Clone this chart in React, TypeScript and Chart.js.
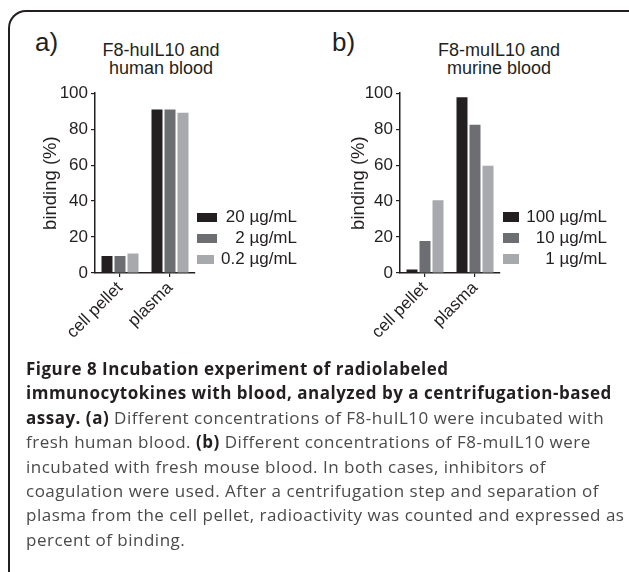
import React, { useEffect, useRef } from "react";
import { Chart, registerables } from "chart.js";

Chart.register(...registerables);

// ---- data ----
const categories = ["cell pellet", "plasma"];
const yTickMin = 0;
const yTickMax = 100;
const yTickStep = 20;

const humanLabels = ["20 µg/mL", "2 µg/mL", "0.2 µg/mL"];
const human20 = [9.4, 90.9];
const human2 = [9.4, 90.9];
const human02 = [10.9, 89.1];

const murineLabels = ["100 µg/mL", "10 µg/mL", "1 µg/mL"];
const murine100 = [2.0, 97.8];
const murine10 = [17.8, 82.5];
const murine1 = [40.5, 59.6];

const seriesColors = ["#231f20", "#6d6e71", "#a7a9ac"];
const FONT = "'Liberation Sans', Arial, Helvetica, sans-serif";
const INK = "#231f20";

type PanelProps = {
  left: number;
  padLeft: number;
  labels: string[];
  values: number[][];
};

function BarPanel({ left, padLeft, labels, values }: PanelProps) {
  const ref = useRef<HTMLCanvasElement | null>(null);
  useEffect(() => {
    if (!ref.current) return;
    const chart = new Chart(ref.current, {
      type: "bar",
      data: {
        labels: categories,
        datasets: values.map((v, i) => ({
          label: labels[i],
          data: v,
          backgroundColor: seriesColors[i],
          borderWidth: 0,
          categoryPercentage: 0.78,
          barPercentage: 0.846,
        })),
      },
      options: {
        animation: false,
        responsive: false,
        maintainAspectRatio: false,
        events: [],
        layout: { padding: { left: padLeft, top: 10, right: 115, bottom: 0 } },
        plugins: { legend: { display: false }, tooltip: { enabled: false }, title: { display: false } },
        scales: {
          x: {
            offset: true,
            grid: { display: true, drawOnChartArea: false, offset: false, tickLength: 4, color: INK, lineWidth: 1.2 },
            border: { display: true, color: INK, width: 1.5 },
            ticks: {
              minRotation: 45,
              maxRotation: 45,
              autoSkip: false,
              padding: 1,
              color: INK,
              font: { family: FONT, size: 17 },
            },
            afterFit: (s: any) => {
              s.height = 97;
            },
          },
          y: {
            min: yTickMin,
            max: yTickMax,
            ticks: { stepSize: yTickStep, padding: 3, color: INK, font: { family: FONT, size: 17 } },
            grid: { display: true, drawOnChartArea: false, tickLength: 4, color: INK, lineWidth: 1.2 },
            border: { display: true, color: INK, width: 1.5 },
            title: {
              display: true,
              text: "binding (%)",
              color: INK,
              font: { family: FONT, size: 18.5 },
              padding: { top: 0, bottom: 0 },
            },
            afterFit: (s: any) => {
              s.width = 95 - padLeft;
            },
          },
        },
      },
    });
    return () => chart.destroy();
  }, []);
  return (
    <canvas
      ref={ref}
      width={310}
      height={290}
      style={{ position: "absolute", left, top: 80, width: 310, height: 290 }}
    />
  );
}

type LegendProps = { boxLeft: number; boxW: number[]; boxH: number; textRight: number; labels: string[] };

function Legend({ boxLeft, boxW, boxH, textRight, labels }: LegendProps) {
  const centers = [217, 238, 259];
  return (
    <>
      {labels.map((l, i) => (
        <React.Fragment key={l}>
          <div
            style={{
              position: "absolute",
              left: boxLeft,
              top: centers[i] - boxH / 2,
              width: boxW[i],
              height: boxH,
              background: seriesColors[i],
            }}
          />
          <div
            style={{
              position: "absolute",
              left: boxLeft,
              width: textRight - boxLeft,
              top: centers[i] - 10,
              height: 20,
              lineHeight: "20px",
              textAlign: "right",
              fontFamily: FONT,
              fontSize: 17,
              color: INK,
              whiteSpace: "nowrap",
            }}
          >
            {l}
          </div>
        </React.Fragment>
      ))}
    </>
  );
}

function Title({ cx, lines }: { cx: number; lines: string[] }) {
  return (
    <div
      style={{
        position: "absolute",
        left: cx - 100,
        width: 200,
        top: 41,
        textAlign: "center",
        fontFamily: FONT,
        fontSize: 18,
        lineHeight: "18px",
        color: INK,
      }}
    >
      {lines.map((l) => (
        <div key={l}>{l}</div>
      ))}
    </div>
  );
}

const capFont = "'Open Sans', 'Noto Sans', sans-serif";

export default function App() {
  const b = { fontWeight: 700, color: "#231f20" } as const;
  return (
    <div
      style={{
        position: "fixed",
        left: 0,
        top: 0,
        width: 629,
        height: 572,
        overflow: "hidden",
        background: "#ffffff",
      }}
    >
      <div
        style={{
          position: "absolute",
          left: 8,
          top: 10,
          width: 640,
          height: 620,
          borderTop: "2px solid #231f20",
          borderLeft: "2px solid #231f20",
          borderRight: "2px solid #231f20",
          borderTopLeftRadius: 18,
          borderTopRightRadius: 18,
          boxSizing: "border-box",
        }}
      />
      <div style={{ position: "absolute", left: 35, top: 29, fontFamily: FONT, fontSize: 26, lineHeight: "26px", color: INK }}>a)</div>
      <div style={{ position: "absolute", left: 332, top: 29, fontFamily: FONT, fontSize: 26, lineHeight: "26px", color: INK }}>b)</div>
      <Title cx={161} lines={["F8-huIL10 and", "human blood"]} />
      <Title cx={499} lines={["F8-muIL10 and", "murine blood"]} />
      <BarPanel left={0} padLeft={40} labels={humanLabels} values={[human20, human2, human02]} />
      <BarPanel left={305} padLeft={43} labels={murineLabels} values={[murine100, murine10, murine1]} />
      <Legend boxLeft={197} boxW={[20, 20, 17]} boxH={9} textRight={297} labels={humanLabels} />
      <Legend boxLeft={503} boxW={[16, 16, 16]} boxH={10} textRight={607} labels={murineLabels} />
      <div
        style={{
          position: "absolute",
          left: 26,
          top: 357,
          width: 620,
          fontFamily: capFont,
          fontSize: 17,
          letterSpacing: "0.5px",
          lineHeight: "24.4px",
          color: "#4a4a4c",
          whiteSpace: "nowrap",
        }}
      >
        <div style={b}>Figure 8 Incubation experiment of radiolabeled</div>
        <div style={b}>immunocytokines with blood, analyzed by a centrifugation-based</div>
        <div>
          <span style={b}>assay. (a)</span> Different concentrations of F8-huIL10 were incubated with
        </div>
        <div>
          fresh human blood. <span style={b}>(b)</span> Different concentrations of F8-muIL10 were
        </div>
        <div>incubated with fresh mouse blood. In both cases, inhibitors of</div>
        <div>coagulation were used. After a centrifugation step and separation of</div>
        <div>plasma from the cell pellet, radioactivity was counted and expressed as</div>
        <div>percent of binding.</div>
      </div>
    </div>
  );
}
